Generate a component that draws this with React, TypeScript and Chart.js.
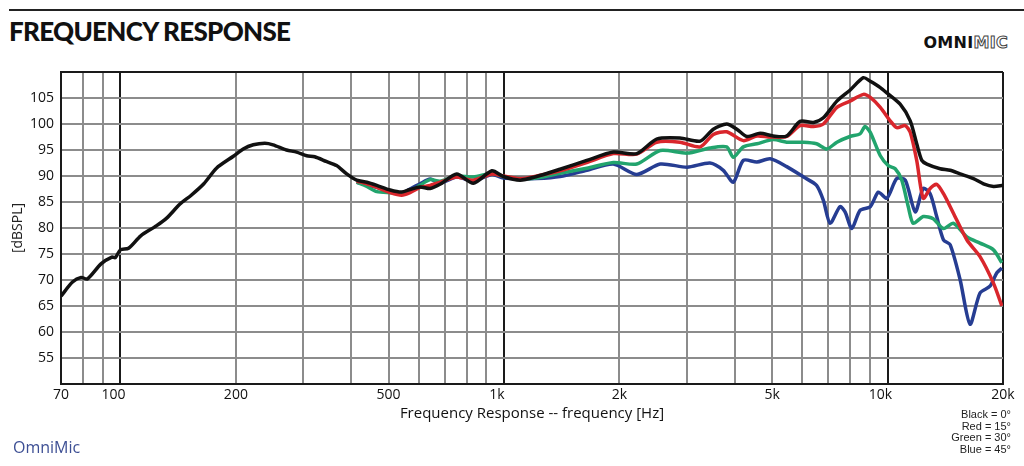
import React, { useEffect, useRef } from 'react';
import { Chart, registerables } from 'chart.js';

Chart.register(...registerables);

// frequency (Hz) / level (dBSPL)
const blackFreq = [70, 75, 79, 82, 89, 95, 97, 100, 105, 113, 124, 132, 143, 153, 165, 178, 197, 209, 222, 238, 250, 271, 288, 306, 321, 344, 366, 389, 413, 439, 466, 505, 541, 569, 604, 642, 681, 753, 832, 930, 996, 1102, 1217, 1400, 1644, 1928, 2219, 2500, 2877, 3248, 3514, 3808, 4046, 4298, 4655, 5033, 5460, 5915, 6412, 6804, 7378, 7980, 8652, 9016, 9576, 9954, 10787, 11459, 11914, 12285, 12663, 13713, 14560, 15456, 16750, 17790, 18886, 20000];
const blackDb = [66.9, 69.6, 70.5, 70.2, 73.1, 74.4, 74.3, 75.8, 76.1, 78.5, 80.4, 81.9, 84.6, 86.3, 88.5, 91.5, 93.8, 95.2, 96.0, 96.3, 96.0, 95.0, 94.6, 93.9, 93.7, 92.8, 92.0, 90.4, 89.2, 88.8, 88.2, 87.3, 86.9, 87.4, 87.9, 87.6, 88.4, 90.4, 88.6, 91.0, 89.9, 89.2, 89.9, 91.3, 93.0, 94.6, 94.3, 97.1, 97.3, 96.7, 99.0, 100.0, 99.0, 97.6, 98.2, 97.7, 97.7, 100.5, 100.3, 101.2, 104.4, 106.5, 108.9, 108.2, 107.0, 106.0, 103.8, 100.6, 96.2, 93.0, 92.3, 91.4, 91.1, 90.4, 89.5, 88.5, 88.0, 88.2];

const redFreq = [413, 439, 466, 505, 541, 569, 604, 642, 681, 753, 832, 930, 996, 1102, 1217, 1400, 1644, 1928, 2219, 2500, 2877, 3248, 3514, 3808, 4207, 4564, 4942, 5460, 5915, 6412, 6804, 7378, 7980, 8652, 9016, 9576, 10164, 10570, 11123, 11459, 11914, 12390, 12915, 13433, 13993, 14861, 16107, 17423, 18886, 19866];
const redDb = [89.0, 88.5, 87.8, 86.8, 86.3, 86.8, 87.8, 88.2, 88.8, 89.8, 89.2, 90.4, 90.0, 89.5, 90.0, 91.0, 92.6, 94.3, 94.2, 96.5, 96.5, 95.6, 98.0, 98.5, 96.8, 97.7, 97.5, 97.6, 99.7, 99.5, 100.0, 103.2, 104.4, 105.7, 105.1, 103.2, 100.6, 99.3, 99.7, 98.4, 93.0, 85.7, 87.6, 88.4, 86.6, 82.8, 77.7, 74.5, 69.4, 65.0];

const greenFreq = [413, 439, 466, 505, 541, 569, 604, 642, 681, 753, 832, 930, 996, 1102, 1217, 1400, 1644, 1928, 2219, 2555, 3003, 3444, 3808, 3962, 4207, 4564, 5033, 5460, 6041, 6531, 6951, 7378, 7980, 8477, 8737, 9016, 9576, 10045, 10472, 10892, 11326, 11669, 12390, 13153, 13993, 14861, 16107, 17423, 18886, 19866];
const greenDb = [88.8, 88.0, 87.0, 86.8, 86.7, 87.0, 88.2, 89.3, 89.0, 90.0, 89.8, 90.5, 89.9, 89.5, 89.6, 90.5, 91.5, 92.6, 92.3, 94.9, 94.4, 95.4, 95.6, 93.6, 95.6, 96.2, 97.0, 96.5, 96.5, 96.2, 95.2, 96.5, 97.6, 98.1, 99.5, 98.4, 93.9, 92.0, 91.4, 89.2, 84.1, 80.9, 82.2, 81.8, 79.9, 80.9, 78.3, 77.1, 75.8, 73.3];

const blueFreq = [413, 439, 466, 505, 541, 569, 604, 642, 681, 753, 832, 930, 996, 1102, 1217, 1400, 1644, 1928, 2219, 2555, 3003, 3444, 3731, 3962, 4207, 4564, 4942, 5460, 6041, 6531, 6804, 7084, 7518, 7749, 8071, 8477, 9016, 9464, 9954, 10570, 11123, 11809, 12390, 12915, 13433, 13993, 14560, 15456, 16408, 17423, 18494, 19278, 19866];
const blueDb = [88.8, 88.3, 87.8, 87.0, 86.6, 87.5, 88.5, 89.4, 88.6, 89.8, 89.0, 90.3, 89.6, 89.5, 89.5, 89.9, 91.1, 92.3, 90.3, 92.3, 91.7, 92.5, 91.1, 88.8, 93.0, 92.7, 93.3, 91.8, 89.8, 88.2, 85.3, 80.9, 84.1, 83.1, 79.9, 83.4, 84.1, 86.9, 85.7, 89.5, 89.2, 83.1, 87.6, 86.6, 82.2, 77.7, 76.8, 70.1, 61.5, 67.5, 68.8, 71.4, 72.3];

const xGridValues = [70, 80, 90, 100, 200, 300, 400, 500, 600, 700, 800, 900, 1000, 2000, 3000, 4000, 5000, 6000, 7000, 8000, 9000, 10000, 20000];
const xTickValues = [70, 100, 200, 500, 1000, 2000, 5000, 10000, 20000];
const xTickText = ['70', '100\u2002\u2002', '200', '500', '1k\u2002\u2002', '2k', '5k', '10k\u2002\u2002', '20k'];
const darkX = [70, 100, 1000, 10000, 20000];

const legendLines = ['Black = 0°', 'Red = 15°', 'Green = 30°', 'Blue = 45°'];

const toPoints = (freq: number[], db: number[]) => freq.map((f, i) => ({ x: f, y: db[i] }));

const FrequencyChart: React.FC = () => {
  const chartRef = useRef<HTMLCanvasElement | null>(null);

  useEffect(() => {
    if (!chartRef.current) return;
    const line = (label: string, color: string, freq: number[], db: number[]) => ({
      label,
      data: toPoints(freq, db),
      borderColor: color,
      borderWidth: 3.5,
      pointRadius: 0,
      tension: 0.25,
      fill: false,
    });

    const myChart = new Chart(chartRef.current, {
      type: 'line',
      data: {
        datasets: [
          line('Black = 0°', '#111111', blackFreq, blackDb),
          line('Red = 15°', '#d9262c', redFreq, redDb),
          line('Green = 30°', '#22a46d', greenFreq, greenDb),
          line('Blue = 45°', '#263d92', blueFreq, blueDb),
        ],
      },
      options: {
        animation: false,
        responsive: false,
        layout: { padding: { top: 72, right: 21, bottom: 43, left: 10 } },
        plugins: { legend: { display: false }, tooltip: { enabled: false } },
        scales: {
          x: {
            type: 'logarithmic',
            min: 70,
            max: 20000,
            afterBuildTicks: (scale: any) => {
              scale.ticks = xGridValues.map((v) => ({ value: v }));
            },
            afterFit: (scale: any) => {
              scale.height = 39;
            },
            ticks: {
              autoSkip: false,
              maxRotation: 0,
              padding: 3,
              color: '#111',
              font: { family: 'Open Sans', size: 14 },
              callback: (value: any) => {
                const i = xTickValues.indexOf(Number(value));
                return i >= 0 ? xTickText[i] : '';
              },
            },
            grid: {
              drawTicks: false,
              lineWidth: 2,
              color: (ctx: any) => (darkX.includes(ctx.tick?.value) ? '#1a1a1a' : '#8c8c8c'),
            },
            border: { color: '#1a1a1a', width: 2 },
            title: {
              display: true,
              text: 'Frequency Response -- frequency [Hz]',
              color: '#111',
              font: { family: 'Open Sans', size: 15 },
              padding: 0,
            },
          },
          y: {
            min: 50,
            max: 110,
            afterFit: (scale: any) => {
              scale.width = 51;
            },
            ticks: {
              stepSize: 5,
              padding: 7,
              color: '#111',
              font: { family: 'Open Sans', size: 14 },
              callback: (value: any) => (value === 50 || value === 110 ? '' : String(value)),
            },
            grid: {
              drawTicks: false,
              lineWidth: 2,
              color: (ctx: any) => (ctx.tick?.value === 50 || ctx.tick?.value === 110 ? '#1a1a1a' : '#8c8c8c'),
            },
            border: { color: '#1a1a1a', width: 2 },
            title: {
              display: true,
              text: '[dBSPL]',
              color: '#222',
              font: { family: 'Open Sans', size: 14 },
              padding: 0,
            },
          },
        },
      },
    });

    return () => myChart.destroy();
  }, []);

  return (
    <div style={{ position: 'absolute', left: 0, top: 0, width: 1024, height: 466, background: '#fff', overflow: 'hidden' }}>
      <div style={{ position: 'absolute', left: 9, top: 9, width: 1015, height: 2, background: '#222' }} />
      <div
        style={{
          position: 'absolute',
          left: 9,
          top: 15,
          fontFamily: 'Lato',
          fontWeight: 900,
          fontSize: 26,
          letterSpacing: -0.7,
          color: '#111',
          whiteSpace: 'nowrap',
        }}
      >
        FREQUENCY RESPONSE
      </div>
      <div
        style={{
          position: 'absolute',
          right: 16,
          top: 33,
          fontFamily: 'DejaVu Sans',
          fontWeight: 700,
          fontSize: 16,
          letterSpacing: 0.3,
          whiteSpace: 'nowrap',
        }}
      >
        <span style={{ color: '#111' }}>OMNI</span>
        <span style={{ color: 'transparent', WebkitTextStroke: '1px #444' } as any}>MIC</span>
      </div>
      <canvas ref={chartRef} width={1024} height={466} style={{ position: 'absolute', left: 0, top: 0 }} />
      <div
        style={{
          position: 'absolute',
          left: 13,
          top: 436,
          fontFamily: 'Open Sans',
          fontSize: 16,
          color: '#3d4f94',
        }}
      >
        OmniMic
      </div>
      <div
        style={{
          position: 'absolute',
          right: 13,
          top: 409,
          fontFamily: 'Liberation Sans',
          fontSize: 11,
          lineHeight: '11.5px',
          color: '#222',
          textAlign: 'right',
        }}
      >
        {legendLines.map((t) => (
          <div key={t}>{t}</div>
        ))}
      </div>
    </div>
  );
};

export default function App() {
  return <FrequencyChart />;
}
